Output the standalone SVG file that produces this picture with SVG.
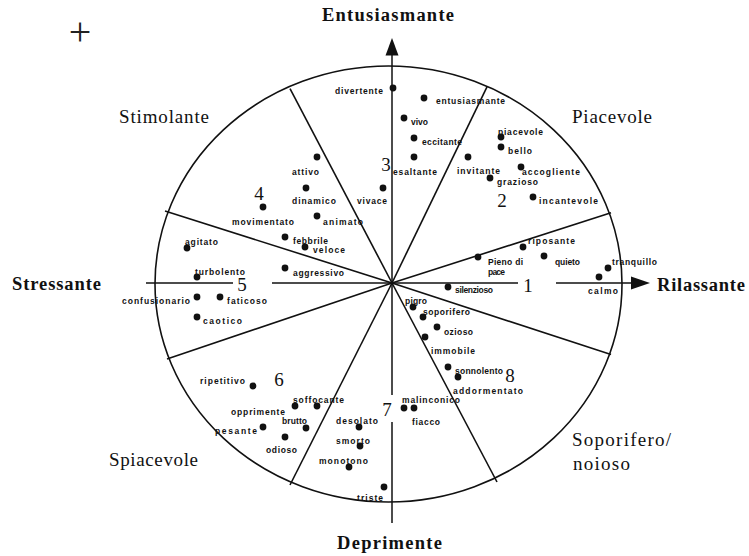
<svg xmlns="http://www.w3.org/2000/svg" width="749" height="556" viewBox="0 0 749 556">
<style>
.ln{stroke:#111;stroke-width:1.6;fill:none}
.ax{stroke:#111;stroke-width:1.5;fill:none}
.dot{fill:#111}
.w{font-family:"Liberation Sans",Arial,sans-serif;font-weight:bold;font-size:8.5px;fill:#111}
.big{font-family:"Liberation Serif","Times New Roman",serif;font-weight:bold;font-size:18.5px;fill:#111}
.reg{font-family:"Liberation Serif","Times New Roman",serif;font-size:19px;fill:#111}
.num{font-family:"Liberation Serif","Times New Roman",serif;font-size:19px;fill:#111;text-anchor:middle}
</style>
<rect width="749" height="556" fill="#fff"/>
<text x="80" y="45" text-anchor="middle" style="font-family:'Liberation Serif',serif;font-size:40px;fill:#222">+</text>

<g id="frame">
<ellipse cx="388.5" cy="284" rx="233.5" ry="218" class="ln"/>
</g>

<g id="connectors">
<line x1="392" y1="283" x2="290" y2="88.7" class="ln"/>
<line x1="392" y1="283" x2="487" y2="86.9" class="ln"/>
<line x1="392" y1="283" x2="611" y2="212.8" class="ln"/>
<line x1="392" y1="283" x2="611" y2="354.6" class="ln"/>
<line x1="392" y1="283" x2="497" y2="482" class="ln"/>
<line x1="392" y1="283" x2="290" y2="485" class="ln"/>
<line x1="392" y1="283" x2="167" y2="359" class="ln"/>
<line x1="392" y1="283" x2="165" y2="211" class="ln"/>
<line x1="392" y1="55" x2="392" y2="395" class="ax"/>
<line x1="392" y1="422" x2="392" y2="523" class="ax"/>
<line x1="146" y1="283" x2="233" y2="283" class="ax"/>
<line x1="272" y1="283" x2="518" y2="283" class="ax"/>
<line x1="556" y1="283" x2="632" y2="283" class="ax"/>
<polygon points="392,38 385.5,55.5 398.5,55.5" fill="#111"/>
<polygon points="650,283 631,276.5 631,289.5" fill="#111"/>
</g>

<g id="axis-labels">
<text x="322" y="21" class="big" textLength="132" lengthAdjust="spacing">Entusiasmante</text>
<text x="337" y="549" class="big" textLength="105" lengthAdjust="spacing">Deprimente</text>
<text x="12" y="290" class="big" textLength="89" lengthAdjust="spacing">Stressante</text>
<text x="657" y="290.5" class="big" textLength="88" lengthAdjust="spacing">Rilassante</text>
<text x="119" y="123" class="reg" textLength="90" lengthAdjust="spacing">Stimolante</text>
<text x="572" y="123" class="reg" textLength="80" lengthAdjust="spacing">Piacevole</text>
<text x="109" y="465.5" class="reg" textLength="89" lengthAdjust="spacing">Spiacevole</text>
<text x="572" y="446" class="reg" textLength="99" lengthAdjust="spacing">Soporifero/</text>
<text x="573" y="469.5" class="reg" textLength="57" lengthAdjust="spacing">noioso</text>
</g>

<g id="sector-numbers">
<text x="528" y="291.5" class="num">1</text>
<text x="502" y="207" class="num">2</text>
<text x="386" y="170.5" class="num">3</text>
<text x="259" y="199.5" class="num">4</text>
<text x="242" y="291" class="num">5</text>
<text x="279" y="386" class="num">6</text>
<text x="387" y="416" class="num">7</text>
<text x="510" y="381.5" class="num">8</text>
</g>

<g id="n-divertente"><circle cx="393" cy="88" r="3.4" class="dot"/><text x="335" y="94" class="w" textLength="48" lengthAdjust="spacing">divertente</text></g>
<g id="n-entusiasmante"><circle cx="424" cy="98" r="3.4" class="dot"/><text x="436" y="104" class="w" textLength="69" lengthAdjust="spacing">entusiasmante</text></g>
<g id="n-vivo"><circle cx="404" cy="118" r="3.4" class="dot"/><text x="411" y="124.5" class="w" textLength="17" lengthAdjust="spacing">vivo</text></g>
<g id="n-eccitante"><circle cx="414" cy="138" r="3.4" class="dot"/><text x="422" y="144.5" class="w" textLength="40" lengthAdjust="spacing">eccitante</text></g>
<g id="n-esaltante"><circle cx="414" cy="157" r="3.4" class="dot"/><text x="393" y="174.5" class="w" textLength="44" lengthAdjust="spacing">esaltante</text></g>
<g id="n-attivo"><circle cx="317" cy="157" r="3.4" class="dot"/><text x="292" y="174.5" class="w" textLength="27" lengthAdjust="spacing">attivo</text></g>
<g id="n-dinamico"><circle cx="306" cy="188" r="3.4" class="dot"/><text x="292" y="204" class="w" textLength="44" lengthAdjust="spacing">dinamico</text></g>
<g id="n-vivace"><circle cx="383" cy="188" r="3.4" class="dot"/><text x="357" y="204" class="w" textLength="30" lengthAdjust="spacing">vivace</text></g>
<g id="n-movimentato"><circle cx="263" cy="207" r="3.4" class="dot"/><text x="232" y="224.5" class="w" textLength="62" lengthAdjust="spacing">movimentato</text></g>
<g id="n-animato"><circle cx="317" cy="216" r="3.4" class="dot"/><text x="323" y="225" class="w" textLength="40" lengthAdjust="spacing">animato</text></g>
<g id="n-febbrile"><circle cx="285" cy="237" r="3.4" class="dot"/><text x="293" y="244" class="w" textLength="35" lengthAdjust="spacing">febbrile</text></g>
<g id="n-veloce"><circle cx="305" cy="247" r="3.4" class="dot"/><text x="313" y="253" class="w" textLength="32" lengthAdjust="spacing">veloce</text></g>
<g id="n-agitato"><circle cx="187" cy="248" r="3.4" class="dot"/><text x="185" y="244.5" class="w" textLength="33" lengthAdjust="spacing">agitato</text></g>
<g id="n-turbolento"><circle cx="197" cy="277" r="3.4" class="dot"/><text x="195" y="274.5" class="w" textLength="50" lengthAdjust="spacing">turbolento</text></g>
<g id="n-aggressivo"><circle cx="285" cy="268" r="3.4" class="dot"/><text x="293" y="275.5" class="w" textLength="51" lengthAdjust="spacing">aggressivo</text></g>
<g id="n-confusionario"><circle cx="197" cy="297" r="3.4" class="dot"/><text x="122" y="303.5" class="w" textLength="68" lengthAdjust="spacing">confusionario</text></g>
<g id="n-faticoso"><circle cx="220" cy="297" r="3.4" class="dot"/><text x="227" y="303.5" class="w" textLength="40" lengthAdjust="spacing">faticoso</text></g>
<g id="n-caotico"><circle cx="197" cy="317" r="3.4" class="dot"/><text x="203" y="324" class="w" textLength="39" lengthAdjust="spacing">caotico</text></g>
<g id="n-riposante"><circle cx="523" cy="247" r="3.4" class="dot"/><text x="528" y="243.5" class="w" textLength="47" lengthAdjust="spacing">riposante</text></g>
<g id="n-pieno-di-pace"><circle cx="478" cy="257" r="3.4" class="dot"/><text x="488" y="265" class="w" textLength="35" lengthAdjust="spacing">Pieno di</text><text x="488" y="275" class="w" textLength="17" lengthAdjust="spacing">pace</text></g>
<g id="n-quieto"><circle cx="544" cy="256" r="3.4" class="dot"/><text x="555" y="265" class="w" textLength="25" lengthAdjust="spacing">quieto</text></g>
<g id="n-tranquillo"><circle cx="608" cy="268" r="3.4" class="dot"/><text x="612" y="265" class="w" textLength="45" lengthAdjust="spacing">tranquillo</text></g>
<g id="n-calmo"><circle cx="599" cy="277" r="3.4" class="dot"/><text x="588" y="293.5" class="w" textLength="30" lengthAdjust="spacing">calmo</text></g>
<g id="n-silenzioso"><circle cx="448" cy="287" r="3.4" class="dot"/><text x="455" y="293" class="w" textLength="38" lengthAdjust="spacing">silenzioso</text></g>
<g id="n-pigro"><circle cx="413" cy="307" r="3.4" class="dot"/><text x="405" y="304" class="w" textLength="22" lengthAdjust="spacing">pigro</text></g>
<g id="n-soporifero"><circle cx="423" cy="317" r="3.4" class="dot"/><text x="423" y="314.5" class="w" textLength="47" lengthAdjust="spacing">soporifero</text></g>
<g id="n-ozioso"><circle cx="437" cy="327" r="3.4" class="dot"/><text x="444" y="334.5" class="w" textLength="29" lengthAdjust="spacing">ozioso</text></g>
<g id="n-immobile"><circle cx="425" cy="337" r="3.4" class="dot"/><text x="431" y="353.5" class="w" textLength="44" lengthAdjust="spacing">immobile</text></g>
<g id="n-sonnolento"><circle cx="448" cy="367" r="3.4" class="dot"/><text x="455" y="373.5" class="w" textLength="48" lengthAdjust="spacing">sonnolento</text></g>
<g id="n-addormentato"><circle cx="458" cy="377" r="3.4" class="dot"/><text x="453" y="394" class="w" textLength="70" lengthAdjust="spacing">addormentato</text></g>
<g id="n-malinconico"><circle cx="404" cy="408" r="3.4" class="dot"/><text x="402" y="403" class="w" textLength="58" lengthAdjust="spacing">malinconico</text></g>
<g id="n-fiacco"><circle cx="414" cy="408" r="3.4" class="dot"/><text x="412" y="424.5" class="w" textLength="28" lengthAdjust="spacing">fiacco</text></g>
<g id="n-piacevole"><circle cx="501" cy="137" r="3.4" class="dot"/><text x="498" y="134.5" class="w" textLength="45" lengthAdjust="spacing">piacevole</text></g>
<g id="n-bello"><circle cx="501" cy="147" r="3.4" class="dot"/><text x="508" y="154" class="w" textLength="24" lengthAdjust="spacing">bello</text></g>
<g id="n-invitante"><circle cx="468" cy="157" r="3.4" class="dot"/><text x="457" y="173.5" class="w" textLength="43" lengthAdjust="spacing">invitante</text></g>
<g id="n-accogliente"><circle cx="521" cy="167" r="3.4" class="dot"/><text x="522" y="174.5" class="w" textLength="58" lengthAdjust="spacing">accogliente</text></g>
<g id="n-grazioso"><circle cx="490" cy="178" r="3.4" class="dot"/><text x="497" y="185" class="w" textLength="41" lengthAdjust="spacing">grazioso</text></g>
<g id="n-incantevole"><circle cx="533" cy="197" r="3.4" class="dot"/><text x="539" y="203.5" class="w" textLength="59" lengthAdjust="spacing">incantevole</text></g>
<g id="n-ripetitivo"><circle cx="253" cy="386" r="3.4" class="dot"/><text x="200" y="383.5" class="w" textLength="45" lengthAdjust="spacing">ripetitivo</text></g>
<g id="n-soffocante"><circle cx="317" cy="406" r="3.4" class="dot"/><text x="293" y="403" class="w" textLength="51" lengthAdjust="spacing">soffocante</text></g>
<g id="n-opprimente"><circle cx="295" cy="406" r="3.4" class="dot"/><text x="231" y="414.5" class="w" textLength="54" lengthAdjust="spacing">opprimente</text></g>
<g id="n-brutto"><circle cx="306" cy="428" r="3.4" class="dot"/><text x="282" y="424" class="w" textLength="25" lengthAdjust="spacing">brutto</text></g>
<g id="n-pesante"><circle cx="263" cy="427" r="3.4" class="dot"/><text x="215" y="433.5" class="w" textLength="42" lengthAdjust="spacing">pesante</text></g>
<g id="n-odioso"><circle cx="285" cy="437" r="3.4" class="dot"/><text x="266" y="453" class="w" textLength="31" lengthAdjust="spacing">odioso</text></g>
<g id="n-desolato"><circle cx="359" cy="427" r="3.4" class="dot"/><text x="336" y="424" class="w" textLength="42" lengthAdjust="spacing">desolato</text></g>
<g id="n-smorto"><circle cx="360" cy="446" r="3.4" class="dot"/><text x="336" y="444" class="w" textLength="34" lengthAdjust="spacing">smorto</text></g>
<g id="n-monotono"><circle cx="349" cy="467" r="3.4" class="dot"/><text x="319" y="464" class="w" textLength="49" lengthAdjust="spacing">monotono</text></g>
<g id="n-triste"><circle cx="384" cy="487" r="3.4" class="dot"/><text x="357" y="501" class="w" textLength="26" lengthAdjust="spacing">triste</text></g>
</svg>
